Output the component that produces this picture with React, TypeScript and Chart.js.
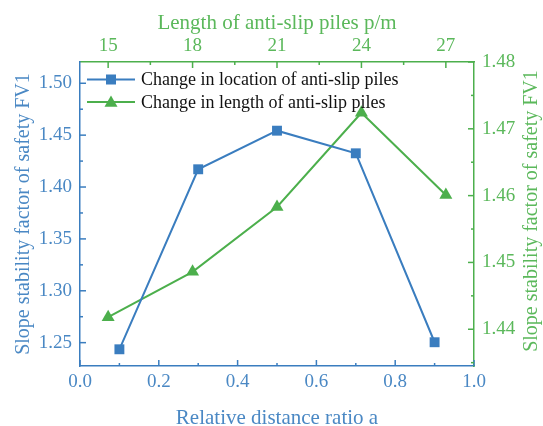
import React, { useEffect, useRef } from "react";
import { Chart, registerables } from "chart.js";

Chart.register(...registerables);

// ---- data ----
const locationRatios = [0.1, 0.3, 0.5, 0.7, 0.9];
const locationFos = [1.2436, 1.4171, 1.4543, 1.4325, 1.2504];
const pileLengths = [15, 18, 21, 24, 27];
const lengthFos = [1.4418, 1.4486, 1.4583, 1.4724, 1.4601];

const ratioTicks = [0, 0.2, 0.4, 0.6, 0.8, 1.0];
const lengthTicks = [15, 18, 21, 24, 27];
const leftTicks = [1.25, 1.3, 1.35, 1.4, 1.45, 1.5];
const rightTicks = [1.44, 1.45, 1.46, 1.47, 1.48];

const seriesNames = [
  "Change in location of anti-slip piles",
  "Change in length of anti-slip piles",
];
const bottomTitle = "Relative distance ratio a";
const topTitle = "Length of anti-slip piles p/m";
const leftTitle = "Slope stability factor of safety FV1";
const rightTitle = "Slope stability factor of safety FV1";

// ---- style ----
const BLUE = "#3a7dbf";
const BLUE_TEXT = "#4a88c4";
const GREEN = "#4caf4c";
const GREEN_TEXT = "#5bb85b";
const FAMILY = '"Liberation Serif", "Times New Roman", serif';
const tickFont = { family: FAMILY, size: 19 };
const titleFont = { family: FAMILY, size: 21 };
const vTitleFont = { family: FAMILY, size: 20 };

function minorsOf(majors: number[], min: number, max: number) {
  const step = majors[1] - majors[0];
  const out: number[] = [];
  for (let i = -1; i < majors.length; i++) {
    const v = majors[0] + step * i + step / 2;
    if (v >= min - 1e-9 && v <= max + 1e-9) out.push(v);
  }
  return out;
}

const decorPlugin = {
  id: "decor",
  afterDraw(chart: any) {
    const ctx = chart.ctx;
    const a = chart.chartArea;
    const specs = [
      { id: "x", majors: ratioTicks, color: BLUE, side: "bottom" },
      { id: "x2", majors: lengthTicks, color: GREEN, side: "top" },
      { id: "y", majors: leftTicks, color: BLUE, side: "left" },
      { id: "y2", majors: rightTicks, color: GREEN, side: "right" },
    ];
    ctx.save();
    ctx.lineWidth = 1.5;
    for (const s of specs) {
      const scale = chart.scales[s.id];
      ctx.strokeStyle = s.color;
      const draw = (v: number, len: number) => {
        const p = scale.getPixelForValue(v);
        ctx.beginPath();
        if (s.side === "bottom") {
          ctx.moveTo(p, a.bottom);
          ctx.lineTo(p, a.bottom - len);
        } else if (s.side === "top") {
          ctx.moveTo(p, a.top);
          ctx.lineTo(p, a.top + len);
        } else if (s.side === "left") {
          ctx.moveTo(a.left, p);
          ctx.lineTo(a.left + len, p);
        } else {
          ctx.moveTo(a.right, p);
          ctx.lineTo(a.right - len, p);
        }
        ctx.stroke();
      };
      s.majors.forEach((v) => draw(v, 6));
      minorsOf(s.majors, scale.min, scale.max).forEach((v) => draw(v, 3));
    }

    // right axis title (reads bottom-to-top)
    ctx.save();
    ctx.fillStyle = GREEN_TEXT;
    ctx.font = `${vTitleFont.size}px ${FAMILY}`;
    ctx.textAlign = "center";
    ctx.textBaseline = "middle";
    ctx.translate(chart.width - 11, (a.top + a.bottom) / 2 - 3);
    ctx.rotate(-Math.PI / 2);
    ctx.fillText(rightTitle, 0, 0);
    ctx.restore();

    // legend
    const colors = [BLUE, GREEN];
    const rows = [a.top + 17.5, a.top + 40];
    const x0 = a.left + 7;
    const x1 = a.left + 55;
    const xm = (x0 + x1) / 2;
    ctx.font = `18px ${FAMILY}`;
    ctx.textAlign = "left";
    ctx.textBaseline = "middle";
    seriesNames.forEach((name, i) => {
      const y = rows[i];
      ctx.strokeStyle = colors[i];
      ctx.fillStyle = colors[i];
      ctx.lineWidth = 2;
      ctx.beginPath();
      ctx.moveTo(x0, y);
      ctx.lineTo(x1, y);
      ctx.stroke();
      if (i === 0) {
        ctx.fillRect(xm - 5, y - 5, 10, 10);
      } else {
        const r = 7.5;
        ctx.beginPath();
        ctx.moveTo(xm, y - r * 0.75 - 1);
        ctx.lineTo(xm + r * 0.866, y + r * 0.75 - 1);
        ctx.lineTo(xm - r * 0.866, y + r * 0.75 - 1);
        ctx.closePath();
        ctx.fill();
      }
      ctx.fillStyle = "#111";
      ctx.fillText(name, x1 + 6, y + 1);
    });
    ctx.restore();
  },
};

export default function App() {
  const ref = useRef<HTMLCanvasElement | null>(null);
  useEffect(() => {
    if (!ref.current) return;
    const chart = new Chart(ref.current, {
      type: "line",
      data: {
        datasets: [
          {
            label: seriesNames[0],
            data: locationRatios.map((x, i) => ({ x, y: locationFos[i] })),
            xAxisID: "x",
            yAxisID: "y",
            borderColor: BLUE,
            backgroundColor: BLUE,
            borderWidth: 2,
            pointStyle: "rect",
            pointRadius: 7,
            pointBorderWidth: 0,
            tension: 0,
          },
          {
            label: seriesNames[1],
            data: pileLengths.map((x, i) => ({ x, y: lengthFos[i] })),
            xAxisID: "x2",
            yAxisID: "y2",
            borderColor: GREEN,
            backgroundColor: GREEN,
            borderWidth: 2,
            pointStyle: "triangle",
            pointRadius: 7.5,
            pointBorderWidth: 0,
            tension: 0,
          },
        ],
      },
      options: {
        responsive: false,
        animation: false,
        layout: { padding: 0 },
        plugins: { legend: { display: false }, tooltip: { enabled: false } },
        scales: {
          x: {
            type: "linear",
            position: "bottom",
            min: 0,
            max: 1,
            afterBuildTicks: (s: any) => {
              s.ticks = ratioTicks.map((value) => ({ value }));
            },
            afterFit: (s: any) => {
              s.height = 60;
            },
            ticks: {
              color: BLUE_TEXT,
              font: tickFont,
              padding: -3,
              autoSkip: false,
              maxRotation: 0,
              callback: (v: any) => Number(v).toFixed(1),
            },
            grid: { display: false },
            border: { color: BLUE, width: 1.5 },
            title: {
              display: true,
              text: bottomTitle,
              color: BLUE_TEXT,
              font: titleFont,
              padding: { top: 0, bottom: -5 },
            },
          },
          x2: {
            type: "linear",
            position: "top",
            min: 14,
            max: 28,
            afterBuildTicks: (s: any) => {
              s.ticks = lengthTicks.map((value) => ({ value }));
            },
            afterFit: (s: any) => {
              s.height = 62;
            },
            ticks: {
              color: GREEN_TEXT,
              font: tickFont,
              padding: -3,
              autoSkip: false,
              maxRotation: 0,
              callback: (v: any) => String(v),
            },
            grid: { display: false },
            border: { color: GREEN, width: 1.5 },
            title: {
              display: true,
              text: topTitle,
              color: GREEN_TEXT,
              font: titleFont,
              padding: { top: 11, bottom: 0 },
            },
          },
          y: {
            type: "linear",
            position: "left",
            min: 1.2275,
            max: 1.5205,
            afterBuildTicks: (s: any) => {
              s.ticks = leftTicks.map((value) => ({ value }));
            },
            afterFit: (s: any) => {
              s.width = 80;
            },
            ticks: {
              color: BLUE_TEXT,
              font: tickFont,
              padding: 0,
              callback: (v: any) => Number(v).toFixed(2),
            },
            grid: { display: false },
            border: { color: BLUE, width: 1.5 },
            title: {
              display: true,
              text: leftTitle,
              color: BLUE_TEXT,
              font: vTitleFont,
              padding: { top: 12, bottom: 0 },
            },
          },
          y2: {
            type: "linear",
            position: "right",
            min: 1.4345,
            max: 1.48,
            afterBuildTicks: (s: any) => {
              s.ticks = rightTicks.map((value) => ({ value }));
            },
            afterFit: (s: any) => {
              s.width = 69;
            },
            ticks: {
              color: GREEN_TEXT,
              font: tickFont,
              padding: 0,
              callback: (v: any) => Number(v).toFixed(2),
            },
            grid: { display: false },
            border: { color: GREEN, width: 1.5 },
            title: { display: false },
          },
        },
      },
      plugins: [decorPlugin],
    } as any);
    return () => chart.destroy();
  }, []);
  return (
    <canvas
      ref={ref}
      width={543}
      height={426}
      style={{ position: "absolute", left: 0, top: 0, display: "block", width: 543, height: 426 }}
    />
  );
}
